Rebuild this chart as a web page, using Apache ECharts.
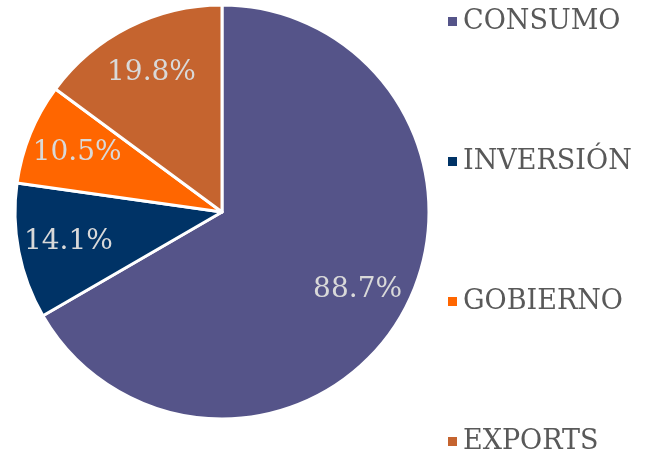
<!DOCTYPE html>
<html>
<head>
<meta charset="utf-8">
<script src="https://cdn.jsdelivr.net/npm/echarts@6/dist/echarts.min.js"></script>
<style>
  html, body { margin: 0; padding: 0; background: #fff; }
  #chart { width: 650px; height: 457px; }
</style>
</head>
<body>
<div id="chart"></div>
<script>
// componentes del gasto
const categories = ['CONSUMO', 'INVERSIÓN', 'GOBIERNO', 'EXPORTS'];
const values = [88.7, 14.1, 10.5, 19.8];
const colors = ['#555489', '#003366', '#FF6600', '#C5642F'];

const serifFont = '"DejaVu Serif", "Liberation Serif", serif';

const chart = echarts.init(document.getElementById('chart'));

const pieData = categories.map(function (name, i) {
    return {name: name, value: values[i]};
});

const option = {
    color: colors,
    animation: false,
    legend: {
        orient: 'vertical',
        left: 446,
        top: 8,
        padding: 0,
        itemWidth: 11,
        itemHeight: 11,
        itemGap: 113,
        icon: 'rect',
        textStyle: {
            fontFamily: serifFont,
            fontSize: 27,
            color: '#595959'
        },
        data: categories
    },
    series: [
        {
            type: 'pie',
            center: [222, 212],
            radius: [0, 207],
            startAngle: 90,
            clockwise: true,
            data: pieData,
            label: {show: false},
            labelLine: {show: false},
            itemStyle: {
                borderColor: '#ffffff',
                borderWidth: 3
            },
            emphasis: {disabled: true}
        },
        {
            // capa invisible solo para colocar las etiquetas más afuera
            type: 'pie',
            center: [222, 212],
            radius: [100, 207],
            startAngle: 90,
            clockwise: true,
            silent: true,
            data: pieData,
            itemStyle: {color: 'rgba(0,0,0,0)'},
            label: {
                show: true,
                position: 'inside',
                formatter: function (p) {
                    return p.value.toFixed(1) + '%';
                },
                fontFamily: serifFont,
                fontSize: 28,
                color: '#D9D9D9'
            },
            labelLine: {show: false},
            emphasis: {disabled: true}
        }
    ]
};

chart.setOption(option);
</script>
</body>
</html>
